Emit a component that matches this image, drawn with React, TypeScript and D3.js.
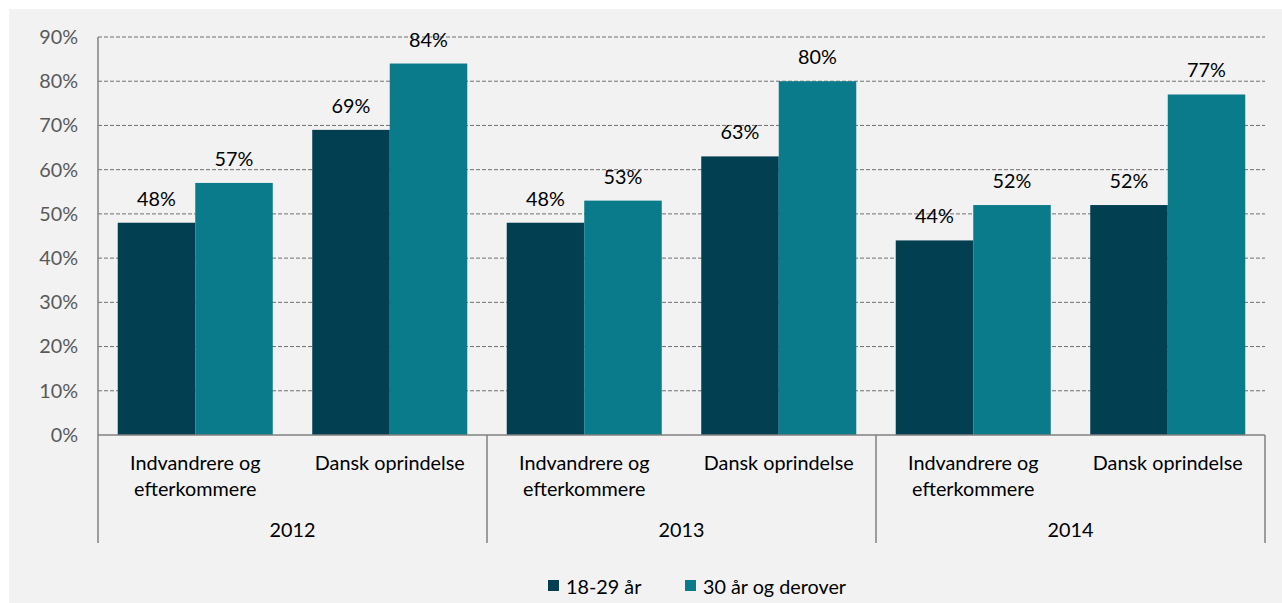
import React from 'react';
import * as d3 from 'd3';

const years = ['2012', '2013', '2014'];
const categories = ['Indvandrere og efterkommere', 'Dansk oprindelse'];
const categoryLines = [['Indvandrere og', 'efterkommere'], ['Dansk oprindelse']];
const seriesNames = ['18-29 år', '30 år og derover'];
const young = [48, 69, 48, 63, 44, 52];
const older = [57, 84, 53, 80, 52, 77];
const yTicks = [0, 10, 20, 30, 40, 50, 60, 70, 80, 90];

const colors = ['#023F50', '#0A7B8B'];
const W = 1282, H = 603;
const left = 98, right = 1265, top = 37, bottom = 435;
const font = 'Lato, "Open Sans", sans-serif';
const fs = 19.8;

export default function App() {
  const slots = years.flatMap((y) => categories.map((c) => `${y}|${c}`));
  const yearX = d3.scaleBand<string>().domain(years).range([left, right]).padding(0);
  const x = d3.scaleBand<string>().domain(slots).range([left, right]).paddingInner(0.203).paddingOuter(0.1015);
  const sx = d3.scaleBand<number>().domain([0, 1]).range([0, x.bandwidth()]).padding(0);
  const y = d3.scaleLinear().domain([0, 90]).range([bottom, top]);
  const series = [young, older];

  return (
    <svg width={W} height={H} style={{ position: 'absolute', left: 0, top: 0 }} fontFamily={font}>
      <rect x={0} y={0} width={W} height={H} fill="#ffffff" />
      <rect x={9} y={9} width={W - 9} height={H - 9} fill="#F2F2F2" />
      {yTicks.map((t) => (
        <g key={t}>
          {t > 0 && (
            <line x1={left} x2={right} y1={y(t)} y2={y(t)} stroke="#707070" strokeWidth={1} strokeDasharray="4,2" />
          )}
          <text x={78} y={y(t)} dy="0.35em" textAnchor="end" fontSize={fs} fill="#595959">{`${t}%`}</text>
        </g>
      ))}
      {slots.map((s, i) =>
        series.map((vals, k) => {
          const bx = (x(s) as number) + (sx(k) as number);
          const v = vals[i];
          return (
            <g key={`${s}-${k}`}>
              <rect x={bx} y={y(v)} width={sx.bandwidth()} height={bottom - y(v)} fill={colors[k]} />
              <text x={bx + sx.bandwidth() / 2} y={y(v) - 17} textAnchor="middle" fontSize={fs} fill="#000">{`${v}%`}</text>
            </g>
          );
        })
      )}
      <line x1={left} x2={left} y1={top} y2={bottom} stroke="#808080" strokeWidth={1.5} />
      <line x1={left} x2={right} y1={bottom} y2={bottom} stroke="#808080" strokeWidth={1.5} />
      {[...years.map((yr) => yearX(yr) as number), right].map((gx, i) => (
        <line key={i} x1={gx} x2={gx} y1={bottom} y2={543} stroke="#808080" strokeWidth={1.5} />
      ))}
      {slots.map((s, i) => {
        const lines = categoryLines[i % 2];
        const cx = (x(s) as number) + x.bandwidth() / 2;
        return (
          <text key={s} textAnchor="middle" fontSize={fs} fill="#000">
            {lines.map((l, j) => (
              <tspan key={j} x={cx} y={470 + j * 26}>{l}</tspan>
            ))}
          </text>
        );
      })}
      {years.map((yr) => (
        <text key={yr} x={(yearX(yr) as number) + yearX.bandwidth() / 2} y={537} textAnchor="middle" fontSize={fs} fill="#000">{yr}</text>
      ))}
      <g>
        <rect x={548} y={580} width={11} height={11} fill={colors[0]} />
        <text x={566} y={594} fontSize={fs} fill="#000">{seriesNames[0]}</text>
        <rect x={685} y={580} width={11} height={11} fill={colors[1]} />
        <text x={703} y={594} fontSize={fs} fill="#000">{seriesNames[1]}</text>
      </g>
    </svg>
  );
}
